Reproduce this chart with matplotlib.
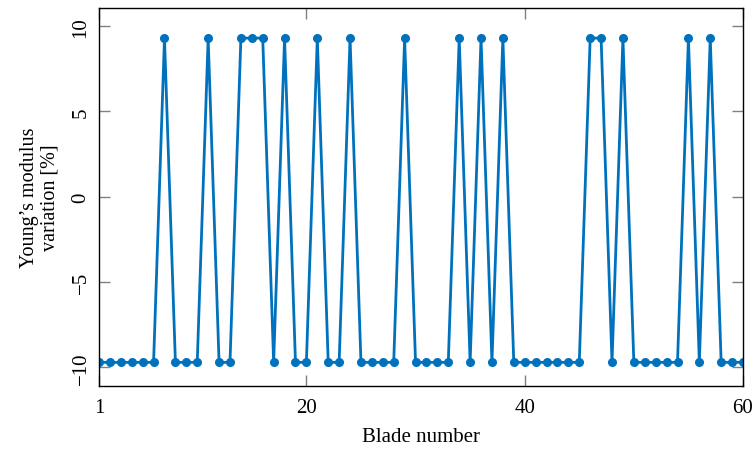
import matplotlib
matplotlib.use("Agg")
import matplotlib.pyplot as plt
import numpy as np

blades = list(range(1, 61))
high_blades = [7, 11, 14, 15, 16, 18, 21, 24, 29, 34, 36, 38, 46, 47, 49, 55, 57]
high_value = 9.3
low_value = -9.7
variation = [high_value if b in high_blades else low_value for b in blades]

x_ticks = [1, 20, 40, 60]
y_ticks = [-10, -5, 0, 5, 10]

plt.rcParams['font.family'] = ['Liberation Serif', 'DejaVu Serif']
plt.rcParams['mathtext.fontset'] = 'stix'

fig = plt.figure(figsize=(7.54, 4.52), dpi=100)
ax = fig.add_axes([0.1313, 0.144, 0.8541, 0.836])
ax.plot(blades, variation, color='#0072BD', lw=2.0, marker='o', ms=5.5)
ax.set_xlim(1, 60)
ax.set_ylim(-11.08, 11.06)
ax.set_xticks(x_ticks)
ax.set_yticks(y_ticks)
ax.set_xticklabels([str(t) for t in x_ticks])
ax.set_yticklabels([str(t).replace('-', '\u2212') for t in y_ticks])
ax.tick_params(direction='in', length=8, width=1, color='#808080', labelsize=15,
               top=True, right=True)
ax.tick_params(axis='x', pad=9)
ax.tick_params(axis='y', labelrotation=90, pad=6)
for lab in ax.get_yticklabels():
    lab.set_va('center')
for s in ax.spines.values():
    s.set_linewidth(1.0)
ax.set_xlabel('Blade number', fontsize=15, labelpad=7)
ax.set_ylabel('Young\u2019s modulus\nvariation [%]', fontsize=14.5, labelpad=9, linespacing=1.1)
fig.savefig('out.png', dpi=100)
